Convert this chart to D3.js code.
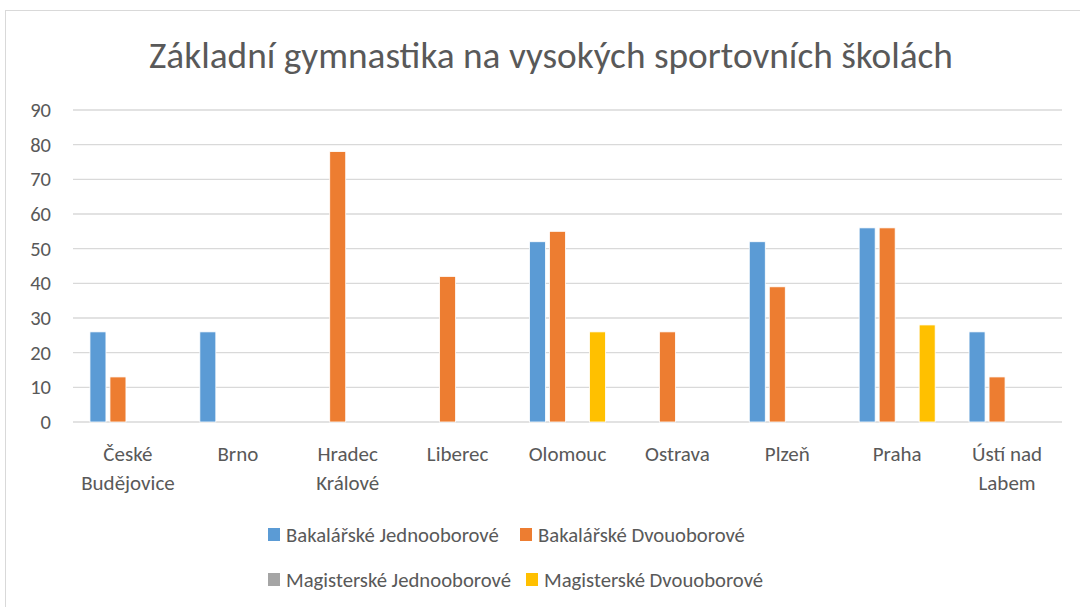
<!DOCTYPE html>
<html><head><meta charset="utf-8">
<script src="https://cdn.jsdelivr.net/npm/d3@7"></script>
<style>body{margin:0;background:#fff}svg{display:block}</style>
</head><body>
<script>
const categories = [["České","Budějovice"],["Brno"],["Hradec","Králové"],["Liberec"],["Olomouc"],["Ostrava"],["Plzeň"],["Praha"],["Ústí nad","Labem"]];
const seriesNames = ["Bakalářské Jednooborové","Bakalářské Dvouoborové","Magisterské Jednooborové","Magisterské Dvouoborové"];
const bakJedno = [26,26,0,0,52,0,52,56,26];
const bakDvou = [13,0,78,42,55,26,39,56,13];
const magJedno = [0,0,0,0,0,0,0,0,0];
const magDvou = [0,0,0,0,26,0,0,28,0];
const yTicks = [0,10,20,30,40,50,60,70,80,90];
const colors = ["#5b9bd5","#ed7d31","#a5a5a5","#ffc000"];
const series = [bakJedno,bakDvou,magJedno,magDvou];

(function(){
const W=1080,H=607;
const font = "Carlito, Calibri, Lato, 'Open Sans', sans-serif";
const svg = d3.select("body").append("svg").attr("width",W).attr("height",H);
svg.append("rect").attr("x",5.5).attr("y",10.5).attr("width",W+10).attr("height",H+10).attr("fill","#fff").attr("stroke","#d9d9d9");

const pLeft=73,pRight=1062,pTop=110,pBottom=422;
const x = d3.scaleBand().domain(d3.range(categories.length)).range([pLeft,pRight]);
const y = d3.scaleLinear().domain([0,90]).range([pBottom,pTop]);
const xs = d3.scaleBand().domain(d3.range(4)).range([0,80]);

svg.append("text").attr("x",551).attr("y",68).attr("text-anchor","middle")
  .style("font-family",font).style("font-size","37.3px").style("font-weight",300).attr("fill","#595959")
  .text("Základní gymnastika na vysokých sportovních školách");

svg.append("g").selectAll("line").data(yTicks).join("line")
  .attr("x1",pLeft).attr("x2",pRight).attr("y1",d=>y(d)).attr("y2",d=>y(d))
  .attr("stroke","#d9d9d9").attr("stroke-width",1.3);

svg.append("g").selectAll("text").data(yTicks).join("text")
  .attr("x",51).attr("y",d=>y(d)+7).attr("text-anchor","end")
  .style("font-family",font).style("font-size","20.5px").attr("fill","#595959").text(d=>d);

series.forEach((s,si)=>{
  svg.append("g").selectAll("rect").data(s).join("rect")
    .attr("x",(d,i)=>x(i)+x.bandwidth()/2-40+xs(si)+2)
    .attr("width",16).attr("y",d=>y(d)).attr("height",d=>pBottom-y(d))
    .attr("fill",colors[si]).attr("stroke","#fff").attr("stroke-width",0.8)
    .style("display",d=>d>0?null:"none");
});

const cl = svg.append("g");
categories.forEach((c,i)=>{
  c.forEach((line,li)=>{
    cl.append("text").attr("x",x(i)+x.bandwidth()/2).attr("y",461+li*28.5).attr("text-anchor","middle")
      .style("font-family",font).style("font-size","21px").attr("fill","#595959").text(line);
  });
});

const legPos = [[268,542],[520,542],[268,587],[526,587]];
seriesNames.forEach((n,i)=>{
  const g = svg.append("g").attr("transform",`translate(${legPos[i][0]},${legPos[i][1]})`);
  g.append("rect").attr("x",0).attr("y",-14).attr("width",12).attr("height",13).attr("fill",colors[i]);
  g.append("text").attr("x",18).attr("y",0).style("font-family",font).style("font-size","20.7px").attr("fill","#595959").text(n);
});
})();
</script>
</body></html>
